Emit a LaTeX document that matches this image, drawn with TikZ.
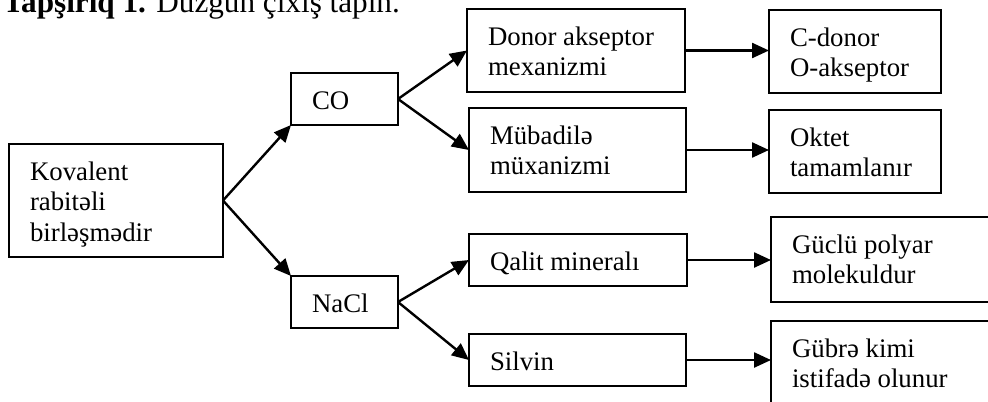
\documentclass[tikz,border=0pt]{standalone}
\usepackage{fontspec}
\setmainfont{Liberation Serif}
\usepackage{tikz}
\usetikzlibrary{arrows.meta,positioning}

% box text: width and height in px, text top left
\newcommand{\boxtxt}[3]{\parbox[c][\dimexpr#2pt/2\relax][t]{\dimexpr#1pt/2-21pt\relax}{\rule{0pt}{18pt}#3}}

\begin{document}
\begin{tikzpicture}[x=0.5pt,y=-0.5pt,->,>={Triangle[length=8.5pt,width=7.5pt]},line width=1.2pt,
	txtbox/.style={draw,-,line width=1.1pt,anchor=north west,inner xsep=10.5pt,inner ysep=0pt,outer sep=0pt,font=\fontsize{13.4}{15.3}\selectfont}]
	\useasboundingbox (0,0) rectangle (988,401);
	
	\node [anchor=base west,inner sep=0pt,font=\fontsize{15.6}{18}\selectfont] (title) at (2,13) {\textbf{Tapşırıq 1.} Düzgün çıxış tapın.};
	
	\node [txtbox] (kov) at (9,144) {\boxtxt{214}{113}{Kovalent\\rabitəli\\birləşmədir}};
	\node [txtbox] (co) at (291,73) {\boxtxt{107}{52}{CO}};
	\node [txtbox] (nacl) at (291,276) {\boxtxt{107}{52}{NaCl}};
	\node [txtbox] (donor) at (467,9) {\boxtxt{218}{83}{Donor akseptor\\mexanizmi}};
	\node [txtbox] (mub) at (469,108) {\boxtxt{217}{84}{Mübadilə\\müxanizmi}};
	\node [txtbox] (qalit) at (469,234) {\boxtxt{218}{52}{Qalit mineralı}};
	\node [txtbox] (silvin) at (469,334) {\boxtxt{217}{52}{Silvin}};
	\node [txtbox] (cdonor) at (769,10) {\boxtxt{172}{83}{C-donor\\O-akseptor}};
	\node [txtbox] (oktet) at (769,110) {\boxtxt{172}{83}{Oktet\\tamamlanır}};
	\node [txtbox] (guclu) at (771,217) {\boxtxt{226}{85}{Güclü polyar\\molekuldur}};
	\node [txtbox] (gubre) at (771,321) {\boxtxt{226}{85}{Gübrə kimi\\istifadə olunur}};
	
	\draw (kov.east) to (co.south west);
	\draw (kov.east) to (nacl.north west);
	\draw (co.east) to (donor.west);
	\draw (co.east) to (mub.west);
	\draw (nacl.east) to (qalit.west);
	\draw (nacl.east) to (silvin.west);
	
	\draw (donor.east) to (donor.east -| cdonor.west);
	\draw (mub.east) to (mub.east -| oktet.west);
	\draw (qalit.east) to (qalit.east -| guclu.west);
	\draw (silvin.east) to (silvin.east -| gubre.west);
\end{tikzpicture}
\end{document}
